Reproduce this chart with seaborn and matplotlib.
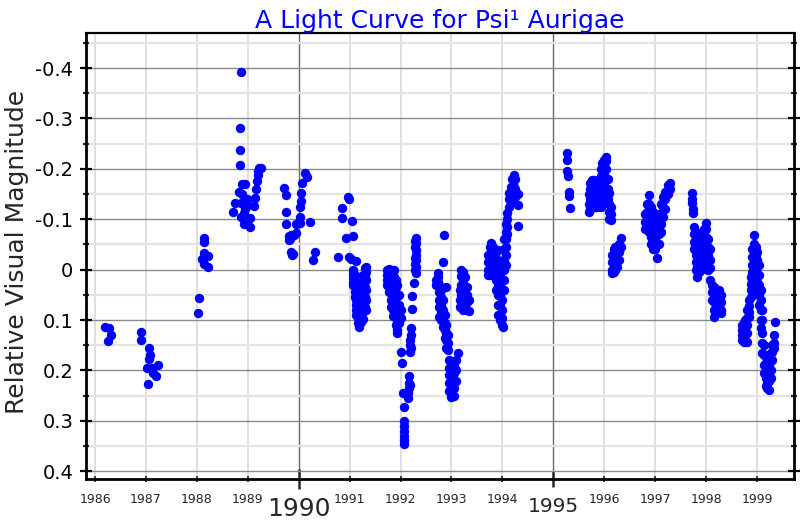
import matplotlib
matplotlib.use("Agg")
import matplotlib.pyplot as plt
import seaborn as sns
import pandas as pd

# ---------------- data: (year, [relative visual magnitudes]) per observing season
season_1986 = [(1986.20, [0.113]), (1986.28, [0.115]), (1986.31, [0.130]), (1986.26, [0.141])]
season_1987 = [(1986.90, [0.124, 0.140]), (1987.07, [0.155, 0.178]), (1987.08, [0.169]),
               (1987.03, [0.196]), (1987.11, [0.196]), (1987.24, [0.189]), (1987.19, [0.212]),
               (1987.14, [0.206]), (1987.04, [0.227])]
season_1988 = [(1988.05, [0.056]), (1988.03, [0.087]), (1988.14, [-0.063, -0.054, -0.011]),
               (1988.15, [-0.033]), (1988.21, [-0.028]), (1988.11, [-0.021]), (1988.22, [-0.005])]
season_1989 = [(1988.86, [-0.393]), (1988.85, [-0.281, -0.238, -0.208]), (1988.89, [-0.170, -0.150]),
               (1988.95, [-0.170, -0.120]), (1988.82, [-0.155]), (1988.74, [-0.133]), (1988.71, [-0.115]),
               (1988.87, [-0.132, -0.105]), (1988.97, [-0.135]), (1989.01, [-0.128]), (1988.93, [-0.090]),
               (1989.04, [-0.102]), (1989.05, [-0.084]), (1989.15, [-0.142]), (1989.12, [-0.127]),
               (1989.16, [-0.160]), (1989.19, [-0.175]), (1989.20, [-0.188]), (1989.22, [-0.201]),
               (1989.26, [-0.201]), (1989.21, [-0.195]), (1988.92, [-0.112]), (1988.98, [-0.140])]
season_1990 = [(1989.71, [-0.162]), (1989.75, [-0.148, -0.114, -0.091]), (1989.80, [-0.066, -0.058]),
               (1989.85, [-0.068, -0.035]), (1989.90, [-0.069]), (1989.95, [-0.073]), (1989.94, [-0.090]),
               (1989.87, [-0.029]), (1989.88, [-0.032]), (1989.83, [-0.061]),
               (1990.03, [-0.092]), (1990.02, [-0.104, -0.125]), (1990.04, [-0.137, -0.153]),
               (1990.07, [-0.171]), (1990.12, [-0.191]), (1990.17, [-0.184]), (1990.22, [-0.094]),
               (1990.33, [-0.036]), (1990.29, [-0.019])]
season_1991 = [(1990.77, [-0.026]), (1990.86, [-0.122, -0.103]), (1990.93, [-0.063]), (1990.97, [-0.145]),
               (1990.98, [-0.140]), (1991.04, [-0.097]), (1991.06, [-0.066]), (1990.99, [-0.026]),
               (1991.02, [-0.021]), (1991.13, [-0.017]),
               (1991.07, [0.000, 0.008, 0.016, 0.024, 0.030]),
               (1991.10, [0.010, 0.020, 0.035, 0.045, 0.055]),
               (1991.13, [0.030, 0.045, 0.060, 0.070, 0.080, 0.090]),
               (1991.16, [0.040, 0.055, 0.070, 0.085, 0.095, 0.105]),
               (1991.19, [0.050, 0.065, 0.080, 0.095, 0.108, 0.113]),
               (1991.22, [0.030, 0.050, 0.070, 0.090, 0.104]),
               (1991.26, [0.010, 0.025, 0.045, 0.065, 0.085, 0.098]),
               (1991.30, [-0.003, 0.015, 0.035, 0.055, 0.075]),
               (1991.33, [-0.006, 0.005, 0.020, 0.040, 0.060, 0.080])]
season_1992 = [(1991.73, [0.000, 0.010, 0.020, 0.030]),
               (1991.77, [-0.002, 0.010, 0.022, 0.035, 0.045]),
               (1991.81, [0.000, 0.015, 0.030, 0.045, 0.060, 0.075]),
               (1991.85, [0.005, 0.020, 0.035, 0.050, 0.065, 0.080, 0.092]),
               (1991.88, [0.000, 0.015, 0.030, 0.045, 0.060, 0.075, 0.090]),
               (1991.91, [0.020, 0.035, 0.050, 0.065, 0.080, 0.095, 0.110]),
               (1991.94, [0.030, 0.050, 0.070, 0.090, 0.105, 0.120, 0.126]),
               (1991.97, [0.050, 0.070, 0.090, 0.105]),
               (1992.00, [0.080, 0.095, 0.163]), (1992.03, [0.186]), (1992.05, [0.245]),
               (1992.06, [0.272]), (1992.07, [0.300, 0.310, 0.320, 0.330, 0.338, 0.345]),
               (1992.30, [-0.062, -0.052, -0.039, -0.029, -0.019, -0.006, 0.007]),
               (1992.29, [-0.057, -0.045, -0.024, -0.012, 0.000]),
               (1992.27, [0.027]), (1992.22, [0.052, 0.079]), (1992.20, [0.116, 0.130, 0.155]),
               (1992.19, [0.163, 0.140]), (1992.17, [0.212, 0.225, 0.235]), (1992.15, [0.245, 0.255]),
               (1992.18, [0.228, 0.150])]
season_1993 = [(1992.86, [-0.069]), (1992.83, [-0.016]),
               (1992.73, [0.007, 0.015, 0.024]), (1992.70, [0.020, 0.030]),
               (1992.76, [0.030, 0.045, 0.060, 0.075, 0.093]),
               (1992.80, [0.040, 0.055, 0.070, 0.085, 0.100]), (1992.90, [0.034]),
               (1992.83, [0.060, 0.080, 0.100, 0.113]),
               (1992.87, [0.090, 0.105, 0.120, 0.135]),
               (1992.90, [0.110, 0.126, 0.140, 0.155]),
               (1992.93, [0.130, 0.145, 0.160]),
               (1992.96, [0.180, 0.195, 0.210, 0.225, 0.240]),
               (1993.00, [0.185, 0.200, 0.215, 0.230, 0.245, 0.252]),
               (1993.05, [0.190, 0.205, 0.220, 0.235, 0.250]),
               (1993.09, [0.180, 0.200, 0.220]), (1993.12, [0.166]),
               (1993.19, [0.000, 0.012, 0.030, 0.050, 0.070]),
               (1993.22, [0.005, 0.020, 0.040, 0.060, 0.080]),
               (1993.16, [0.040, 0.060, 0.075]),
               (1993.26, [0.015, 0.035, 0.055, 0.070]),
               (1993.30, [0.035, 0.050, 0.065, 0.080]),
               (1993.34, [0.060, 0.083])]
season_1994 = [(1993.72, [-0.030, -0.015, 0.000, 0.011]),
               (1993.75, [-0.045, -0.030, -0.015, 0.000, 0.010]),
               (1993.78, [-0.052, -0.040, -0.025, -0.010, 0.005]),
               (1993.82, [-0.045, -0.030, -0.015, 0.000]),
               (1993.88, [-0.035, -0.020, 0.000, 0.020, 0.040]),
               (1993.91, [-0.039, -0.020, 0.010, 0.030, 0.050, 0.070, 0.090]),
               (1993.95, [-0.010, 0.010, 0.030, 0.050, 0.070, 0.090, 0.100]),
               (1994.00, [0.000, 0.020, 0.040, 0.060, 0.080, 0.095, 0.110]),
               (1994.02, [0.113]),
               (1994.04, [-0.060, -0.040, -0.020, 0.000, 0.020, 0.040]),
               (1994.07, [-0.090, -0.075, -0.060, -0.045, -0.030, -0.010]),
               (1994.10, [-0.112, -0.100, -0.085, -0.070]),
               (1994.13, [-0.152, -0.140, -0.125]),
               (1994.16, [-0.165, -0.150, -0.135]),
               (1994.19, [-0.180, -0.165, -0.150]),
               (1994.22, [-0.188, -0.178, -0.165]),
               (1994.25, [-0.180, -0.160, -0.145]),
               (1994.31, [-0.128, -0.087, -0.150])]
season_1995 = [(1995.26, [-0.232, -0.218]), (1995.27, [-0.195]), (1995.28, [-0.185]),
               (1995.31, [-0.155, -0.146]), (1995.33, [-0.122])]
season_1996 = [(1995.70, [-0.115, -0.130, -0.150]),
               (1995.73, [-0.120, -0.140, -0.160, -0.171]),
               (1995.76, [-0.125, -0.145, -0.165, -0.178]),
               (1995.79, [-0.130, -0.150, -0.170, -0.178]),
               (1995.82, [-0.125, -0.140, -0.160]),
               (1995.86, [-0.125, -0.140, -0.155, -0.165]),
               (1995.90, [-0.130, -0.145, -0.160, -0.175]),
               (1995.93, [-0.125, -0.145, -0.165, -0.185, -0.200]),
               (1995.96, [-0.140, -0.160, -0.180, -0.200, -0.211]),
               (1996.00, [-0.150, -0.170, -0.190, -0.205, -0.218]),
               (1996.03, [-0.180, -0.200, -0.215, -0.224]),
               (1996.07, [-0.140, -0.160, -0.180]),
               (1996.10, [-0.100, -0.115, -0.130, -0.152]),
               (1996.13, [-0.099, -0.110, -0.125]),
               (1996.16, [-0.030, -0.015, 0.000, 0.007]),
               (1996.19, [-0.040, -0.025, -0.010, 0.005]),
               (1996.22, [-0.045, -0.030, -0.015, 0.000]),
               (1996.26, [-0.040, -0.020, -0.005]),
               (1996.30, [-0.050, -0.035, -0.020]),
               (1996.33, [-0.062, -0.045])]
season_1997 = [(1996.80, [-0.110, -0.095, -0.080]),
               (1996.84, [-0.130, -0.115, -0.100, -0.085]),
               (1996.88, [-0.148, -0.130, -0.110, -0.090, -0.075]),
               (1996.92, [-0.125, -0.105, -0.085, -0.065, -0.050]),
               (1996.96, [-0.115, -0.095, -0.075, -0.055, -0.040]),
               (1997.00, [-0.100, -0.080, -0.060, -0.040]),
               (1997.04, [-0.090, -0.070, -0.050, -0.023]),
               (1997.08, [-0.110, -0.090, -0.070, -0.050]),
               (1997.12, [-0.130, -0.110, -0.090, -0.075]),
               (1997.16, [-0.145, -0.125, -0.105]),
               (1997.20, [-0.155, -0.140, -0.120]),
               (1997.25, [-0.168, -0.150]),
               (1997.30, [-0.171, -0.160])]
season_1998 = [(1997.73, [-0.152, -0.140, -0.132]),
               (1997.75, [-0.120, -0.112]),
               (1997.77, [-0.085, -0.070, -0.055, -0.040]),
               (1997.80, [-0.075, -0.060, -0.045, -0.030, -0.015, 0.000]),
               (1997.83, [-0.065, -0.050, -0.035, -0.020, -0.005, 0.014]),
               (1997.87, [-0.070, -0.055, -0.040, -0.025, -0.010, 0.005]),
               (1997.91, [-0.060, -0.045, -0.030, -0.015, 0.000]),
               (1997.95, [-0.080, -0.065, -0.050, -0.035, -0.020, -0.005]),
               (1997.99, [-0.092, -0.080, -0.065, -0.050, -0.035, -0.020]),
               (1998.03, [-0.060, -0.045, -0.030, -0.015, 0.000]),
               (1998.07, [-0.040, -0.020, -0.003, 0.020]),
               (1998.11, [0.030, 0.045, 0.060]),
               (1998.16, [0.034, 0.050, 0.065, 0.080, 0.093]),
               (1998.21, [0.045, 0.060, 0.075]),
               (1998.25, [0.040, 0.055, 0.070, 0.085]),
               (1998.30, [0.050, 0.065, 0.080, 0.087])]
season_1999 = [(1998.71, [0.110, 0.120, 0.130, 0.140]),
               (1998.74, [0.105, 0.115, 0.125, 0.135, 0.143]),
               (1998.77, [0.100, 0.110, 0.120, 0.130]),
               (1998.81, [0.080, 0.095, 0.110, 0.125, 0.143]),
               (1998.84, [0.060, 0.073, 0.085, 0.093]),
               (1998.88, [0.015, 0.028, 0.040, 0.055]),
               (1998.91, [-0.040, -0.025, -0.010, 0.005, 0.020]),
               (1998.94, [-0.069, -0.050, -0.035, -0.020, -0.005, 0.010]),
               (1998.98, [-0.045, -0.030, -0.015, 0.000, 0.015, 0.030]),
               (1999.01, [-0.035, -0.020, -0.006, 0.010, 0.025, 0.040]),
               (1999.04, [-0.010, 0.010, 0.030, 0.050, 0.070]),
               (1999.07, [0.040, 0.060, 0.080, 0.100, 0.115]),
               (1999.10, [0.080, 0.100, 0.126, 0.146, 0.165]),
               (1999.14, [0.150, 0.170, 0.190, 0.205]),
               (1999.17, [0.170, 0.185, 0.200, 0.215, 0.230]),
               (1999.20, [0.180, 0.195, 0.210, 0.225, 0.235]),
               (1999.24, [0.190, 0.205, 0.220, 0.239]),
               (1999.27, [0.165, 0.180, 0.200, 0.215]),
               (1999.30, [0.150, 0.163, 0.180]),
               (1999.33, [0.130, 0.145, 0.156]),
               (1999.35, [0.103])]

seasons = [season_1986, season_1987, season_1988, season_1989, season_1990, season_1991,
           season_1992, season_1993, season_1994, season_1995, season_1996, season_1997,
           season_1998, season_1999]

y_major = [-0.4, -0.3, -0.2, -0.1, 0.0, 0.1, 0.2, 0.3, 0.4]
y_major_labels = ["-0.4", "-0.3", "-0.2", "-0.1", "0", "0.1", "0.2", "0.3", "0.4"]
y_minor = [-0.45, -0.35, -0.25, -0.15, -0.05, 0.05, 0.15, 0.25, 0.35]
x_major = [1990, 1995]
x_major_fontsizes = [18, 14.5]
x_minor = [1986, 1987, 1988, 1989, 1991, 1992, 1993, 1994, 1996, 1997, 1998, 1999]

title = "A Light Curve for Psi\u00b9 Aurigae"
ylabel = "Relative Visual Magnitude"

# ---------------- build table
rows = []
for season in seasons:
    for t, ms in season:
        for m in ms:
            rows.append((t, m))
df = pd.DataFrame(rows, columns=["year", "mag"])

sns.set_style("white")
plt.rcParams["font.family"] = ["DejaVu Sans"]

fig = plt.figure(figsize=(8, 5.2), dpi=100)
ax = fig.add_axes([86 / 800, 1 - 479.3 / 520, (794 - 86) / 800, (479.3 - 33.3) / 520])

sns.scatterplot(data=df, x="year", y="mag", color="#0000ff", s=46, linewidth=0,
                ax=ax, zorder=3, legend=False)

ax.set_xlim(1985.823, 1999.727)
ax.set_ylim(0.416, -0.469)

ax.set_yticks(y_major, labels=y_major_labels)
ax.set_yticks(y_minor, minor=True)
ax.set_xticks(x_major, labels=[str(v) for v in x_major])
ax.set_xticks(x_minor, labels=[str(v) for v in x_minor], minor=True)

ax.set_axisbelow(True)
ax.grid(which="major", axis="y", color="#8a8a8a", lw=1.0)
ax.grid(which="minor", axis="y", color="#e4e4e4", lw=1.6)
ax.grid(which="major", axis="x", color="#6a6a6a", lw=1.0)
ax.grid(which="minor", axis="x", color="#dcdcdc", lw=1.3)

ax.tick_params(axis="y", which="major", direction="inout", length=8, width=1.6,
               labelsize=14, pad=5, left=True, right=True, labelright=False, colors="black")
ax.tick_params(axis="y", which="minor", direction="inout", length=5, width=1.6,
               left=True, right=True)
ax.tick_params(axis="x", which="major", direction="inout", length=14, width=1.8,
               labelsize=18, pad=5.5, top=False, bottom=True)
ax.tick_params(axis="x", which="minor", direction="inout", length=4, width=1.2,
               labelsize=9, pad=8, top=False, bottom=True)

# 1995 label and tick are a bit smaller than 1990's
for lab, fs in zip(ax.get_xticklabels(), x_major_fontsizes):
    lab.set_fontsize(fs)
ax.xaxis.get_major_ticks()[1].tick1line.set_markersize(11)

for side in ["left", "right", "bottom"]:
    ax.spines[side].set_linewidth(2.0)
    ax.spines[side].set_color("black")
ax.spines["top"].set_linewidth(1.6)
ax.spines["top"].set_color("black")

ax.set_title(title, color="#0000ff", fontsize=18, pad=2)
ax.set_xlabel("")
ax.set_ylabel(ylabel, fontsize=18)
ax.yaxis.set_label_coords(-0.08, 0.51)

fig.savefig("out.png", dpi=100)
